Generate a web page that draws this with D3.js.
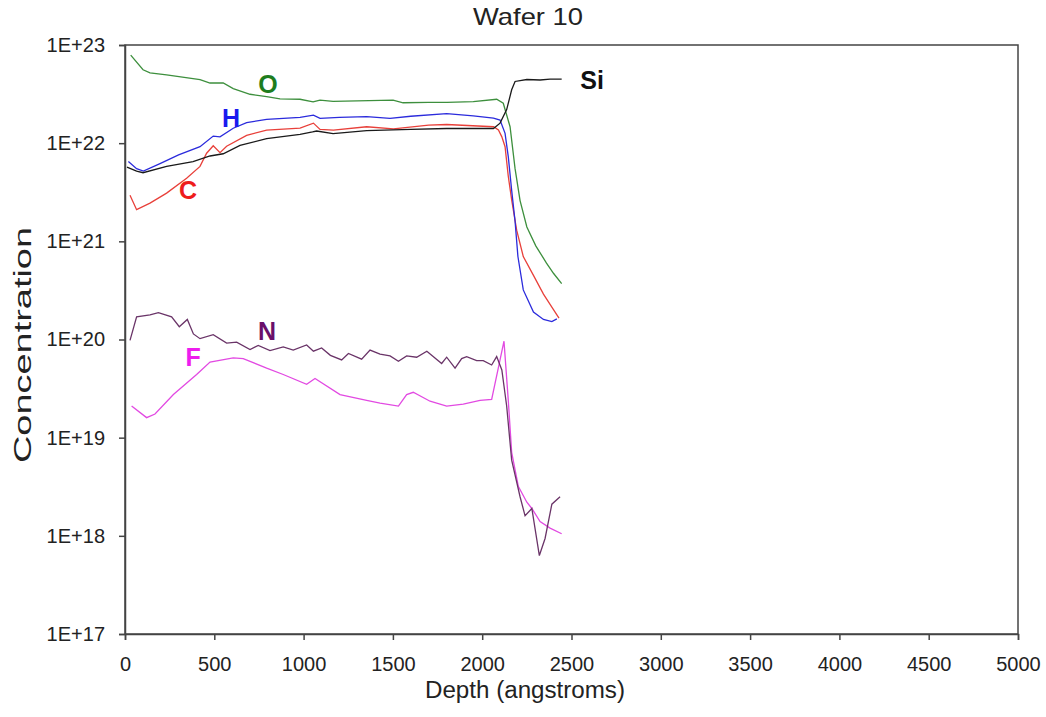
<!DOCTYPE html>
<html>
<head>
<meta charset="utf-8">
<script src="https://cdn.jsdelivr.net/npm/d3@7"></script>
<style>
  body { margin: 0; background: #fff; }
  svg { font-family: "Liberation Sans", Arial, sans-serif; }
</style>
</head>
<body>
<svg id="chart" width="1046" height="717"></svg>
<script>
// depth in angstroms, concentration in atoms/cm3
const oDepth = [32, 101, 140, 233, 420, 476, 550, 606, 700, 793, 868, 980, 1053, 1092, 1165, 1300, 1501, 1557, 1700, 1803, 1950, 2081, 2118, 2156, 2184, 2212, 2250, 2300, 2360, 2400, 2445];
const oConc = [7.9e22, 5.6e22, 5.2e22, 4.95e22, 4.45e22, 4.1e22, 4.1e22, 3.6e22, 3.15e22, 2.98e22, 2.82e22, 2.8e22, 2.63e22, 2.75e22, 2.67e22, 2.7e22, 2.75e22, 2.58e22, 2.6e22, 2.6e22, 2.65e22, 2.8e22, 2.55e22, 1.47e22, 5.5e21, 2.6e21, 1.4e21, 9e20, 6e20, 4.7e20, 3.7e20];

const siDepth = [11, 65, 101, 233, 381, 476, 550, 644, 793, 980, 1050, 1073, 1165, 1353, 1600, 1801, 2063, 2100, 2137, 2165, 2184, 2250, 2324, 2380, 2445];
const siConc = [5.7e21, 5.2e21, 5.0e21, 5.8e21, 6.5e21, 7.4e21, 7.8e21, 9.5e21, 1.11e22, 1.23e22, 1.3e22, 1.33e22, 1.25e22, 1.34e22, 1.38e22, 1.41e22, 1.41e22, 1.6e22, 2.2e22, 3.5e22, 4.25e22, 4.45e22, 4.4e22, 4.5e22, 4.5e22];

const hDepth = [19, 65, 103, 196, 300, 420, 494, 532, 606, 681, 793, 980, 1055, 1092, 1200, 1353, 1484, 1600, 1801, 1950, 2063, 2100, 2128, 2146, 2165, 2184, 2200, 2230, 2287, 2343, 2390, 2418];
const hConc = [6.5e21, 5.5e21, 5.2e21, 6.2e21, 7.6e21, 9.2e21, 1.18e22, 1.16e22, 1.42e22, 1.62e22, 1.75e22, 1.83e22, 1.93e22, 1.79e22, 1.83e22, 1.86e22, 1.79e22, 1.88e22, 2.0e22, 1.9e22, 1.8e22, 1.72e22, 1.26e22, 7.3e21, 3.3e21, 1.6e21, 7e20, 3.2e20, 1.9e20, 1.6e20, 1.52e20, 1.62e20];

const cDepth = [28, 65, 140, 233, 345, 420, 457, 494, 532, 569, 681, 793, 980, 1055, 1092, 1167, 1353, 1503, 1700, 1801, 2063, 2091, 2110, 2128, 2146, 2165, 2193, 2230, 2287, 2343, 2400, 2430];
const cConc = [2.95e21, 2.1e21, 2.45e21, 3.1e21, 4.4e21, 5.8e21, 7.9e21, 9.4e21, 8.0e21, 9.3e21, 1.2e22, 1.36e22, 1.42e22, 1.6e22, 1.38e22, 1.36e22, 1.47e22, 1.4e22, 1.53e22, 1.55e22, 1.47e22, 1.36e22, 1.16e22, 9.2e21, 4.6e21, 2.64e21, 1.3e21, 7e20, 4.5e20, 2.9e20, 2e20, 1.65e20];

const nDepth = [28, 65, 140, 187, 261, 304, 349, 383, 420, 494, 569, 625, 700, 746, 812, 886, 942, 1017, 1055, 1101, 1150, 1213, 1251, 1325, 1372, 1428, 1484, 1531, 1577, 1633, 1690, 1773, 1801, 1848, 1885, 1913, 1969, 2006, 2053, 2081, 2110, 2137, 2165, 2212, 2240, 2278, 2320, 2352, 2390, 2436];
const nConc = [9.8e19, 1.7e20, 1.78e20, 1.88e20, 1.7e20, 1.35e20, 1.6e20, 1.14e20, 1.02e20, 1.12e20, 9.2e19, 9.4e19, 7.9e19, 8.7e19, 7.7e19, 8.4e19, 7.8e19, 8.8e19, 7.6e19, 8.2e19, 6.9e19, 6.2e19, 7.2e19, 6.3e19, 7.8e19, 7.1e19, 6.8e19, 6.0e19, 6.8e19, 6.6e19, 7.6e19, 5.7e19, 6.6e19, 5.1e19, 6.4e19, 6.7e19, 6.1e19, 6.1e19, 5.5e19, 6.7e19, 4.9e19, 2.1e19, 5.9e18, 2.5e18, 1.6e18, 1.9e18, 6.3e17, 9.4e17, 2.1e18, 2.5e18];

const fDepth = [37, 121, 168, 271, 401, 476, 606, 662, 793, 886, 1017, 1064, 1204, 1353, 1428, 1531, 1577, 1614, 1708, 1801, 1894, 1988, 2053, 2122, 2146, 2165, 2202, 2250, 2278, 2324, 2380, 2445];
const fConc = [2.1e19, 1.6e19, 1.74e19, 2.75e19, 4.4e19, 5.9e19, 6.5e19, 6.4e19, 5.1e19, 4.4e19, 3.5e19, 4.0e19, 2.75e19, 2.4e19, 2.25e19, 2.1e19, 2.75e19, 2.9e19, 2.35e19, 2.1e19, 2.2e19, 2.4e19, 2.45e19, 9.6e19, 2.4e19, 7.1e18, 3.2e18, 2.2e18, 1.9e18, 1.4e18, 1.2e18, 1.05e18];

// element labels placed in data space
const labelNames = ["O", "H", "C", "Si", "N", "F"];
const labelDepth = [800, 594, 353, 2615, 795, 381];
const labelConc = [4.0e22, 1.8e22, 3.34e21, 4.4e22, 1.22e20, 6.6e19];

const xTicks = [0, 500, 1000, 1500, 2000, 2500, 3000, 3500, 4000, 4500, 5000];
const yTicks = [1e17, 1e18, 1e19, 1e20, 1e21, 1e22, 1e23];

const series = [
    { depth: oDepth, conc: oConc, color: "#3d8f3d" },
    { depth: cDepth, conc: cConc, color: "#e8403a" },
    { depth: hDepth, conc: hConc, color: "#2b2bdc" },
    { depth: siDepth, conc: siConc, color: "#1a1a1a" },
    { depth: fDepth, conc: fConc, color: "#e24ae2" },
    { depth: nDepth, conc: nConc, color: "#6a3468" }
];
const labelColors = ["#1e7d1e", "#1a1aee", "#ee1c1c", "#111111", "#6a0f6a", "#ee1cee"];

const svg = d3.select("#chart");
const margin = { top: 45, right: 28, bottom: 83, left: 125 };
const width = +svg.attr("width") - margin.left - margin.right;
const height = +svg.attr("height") - margin.top - margin.bottom;

const x = d3.scaleLinear().domain([0, 5000]).range([0, width]);
const y = d3.scaleLog().domain([1e17, 1e23]).range([height, 0]);

const g = svg.append("g")
    .attr("transform", `translate(${margin.left},${margin.top})`);

// frame
g.append("rect")
    .attr("width", width)
    .attr("height", height)
    .attr("fill", "none")
    .attr("stroke", "#444")
    .attr("stroke-width", 1.5);

const line = d3.line()
    .x(d => x(d[0]))
    .y(d => y(d[1]));

series.forEach(s => {
    g.append("path")
        .datum(d3.zip(s.depth, s.conc))
        .attr("fill", "none")
        .attr("stroke", s.color)
        .attr("stroke-width", 1.3)
        .attr("d", line);
});

g.selectAll(".elabel")
    .data(labelNames)
    .join("text")
    .attr("x", (d, i) => x(labelDepth[i]))
    .attr("y", (d, i) => y(labelConc[i]))
    .attr("dy", "0.36em")
    .attr("text-anchor", "middle")
    .attr("font-size", 25)
    .attr("font-weight", "bold")
    .attr("fill", (d, i) => labelColors[i])
    .text(d => d);

const xAxis = g.append("g")
    .attr("transform", `translate(0,${height})`)
    .call(d3.axisBottom(x).tickValues(xTicks).tickSize(6).tickPadding(17).tickFormat(d3.format("d")));

const yAxis = g.append("g")
    .call(d3.axisLeft(y).tickValues(yTicks).tickSize(6).tickPadding(14)
        .tickFormat(d => "1E+" + Math.round(Math.log10(d))));

[xAxis, yAxis].forEach(a => {
    a.selectAll("path, line").attr("stroke", "#444").attr("stroke-width", 1.5);
    a.selectAll("text").attr("font-size", 20).attr("fill", "#222")
        .attr("font-family", "'Liberation Sans', Arial, sans-serif");
});

// titles, stretched to the width they have in the picture
svg.append("text")
    .attr("x", 528)
    .attr("y", 25)
    .attr("text-anchor", "middle")
    .attr("font-size", 24)
    .attr("fill", "#222")
    .attr("textLength", 110)
    .attr("lengthAdjust", "spacingAndGlyphs")
    .text("Wafer 10");

svg.append("text")
    .attr("x", 525)
    .attr("y", 698)
    .attr("text-anchor", "middle")
    .attr("font-size", 23)
    .attr("fill", "#222")
    .attr("textLength", 200)
    .attr("lengthAdjust", "spacingAndGlyphs")
    .text("Depth (angstroms)");

svg.append("text")
    .attr("transform", "translate(31,345) rotate(-90)")
    .attr("text-anchor", "middle")
    .attr("font-size", 23)
    .attr("fill", "#222")
    .attr("textLength", 236)
    .attr("lengthAdjust", "spacingAndGlyphs")
    .text("Concentration");
</script>
</body>
</html>
